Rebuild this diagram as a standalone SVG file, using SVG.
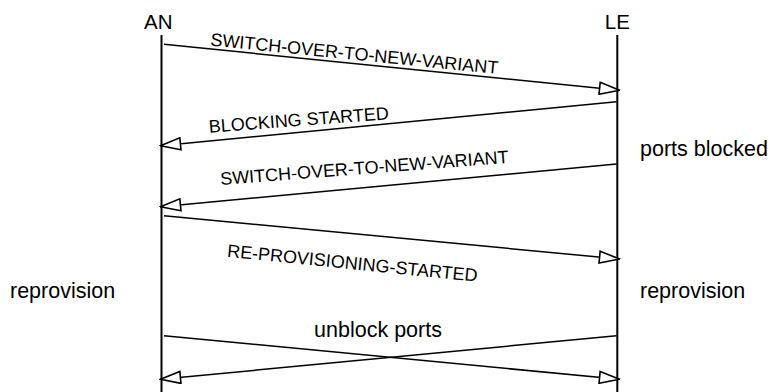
<svg xmlns="http://www.w3.org/2000/svg" width="774" height="392" viewBox="0 0 774 392">
<style>
  text { font-family: "Liberation Sans", Arial, sans-serif; fill: #000; }
  .head { font-size: 20.5px; text-anchor: middle; }
  .side { font-size: 21.5px; }
  .msg { font-size: 18px; }
  .life { stroke: #000; stroke-width: 2; fill: none; }
  .m { stroke: #000; stroke-width: 1.5; fill: none; marker-end: url(#open); }
</style>
<defs>
  <marker id="open" markerUnits="userSpaceOnUse" viewBox="-1 -1 22 14" markerWidth="22" markerHeight="14" refX="20" refY="6" orient="auto">
    <path d="M0,0 L20,6 L0,12 Z" fill="#fff" stroke="#000" stroke-width="1.6"/>
  </marker>
</defs>
<rect width="774" height="392" fill="#fff"/>
<g id="AN">
  <text class="head" x="158.3" y="28.5">AN</text>
  <line class="life" x1="161.5" y1="35" x2="161.5" y2="392"/>
</g>
<g id="LE">
  <text class="head" x="617.3" y="28.8">LE</text>
  <line class="life" x1="617.3" y1="35" x2="617.3" y2="392"/>
</g>
<g id="notes">
  <text class="side" x="640" y="156">ports blocked</text>
  <text class="side" x="10" y="298.3">reprovision</text>
  <text class="side" x="640" y="298.3">reprovision</text>
</g>
<g id="connectors">
  <line class="m" x1="164" y1="44.3" x2="619.5" y2="90.3"/>
  <line class="m" x1="616.5" y1="101.7" x2="160.5" y2="145.7"/>
  <line class="m" x1="616.5" y1="164" x2="160.5" y2="206.7"/>
  <line class="m" x1="164" y1="215.7" x2="619.5" y2="259"/>
  <line class="m" x1="164" y1="335.7" x2="619.5" y2="379.3"/>
  <line class="m" x1="616.5" y1="335.7" x2="160.5" y2="379.3"/>
</g>
<g id="labels">
  <text class="msg" transform="translate(210,45.5) rotate(5.65)">SWITCH-OVER-TO-NEW-VARIANT</text>
  <text class="msg" transform="translate(209.3,132.7) rotate(-4.3)">BLOCKING STARTED</text>
  <text class="msg" transform="translate(220.7,185) rotate(-4.4)">SWITCH-OVER-TO-NEW-VARIANT</text>
  <text class="msg" transform="translate(226.7,256.7) rotate(5.7)">RE-PROVISIONING-STARTED</text>
  <text class="side" x="378" y="336.5" text-anchor="middle">unblock ports</text>
</g>
</svg>
